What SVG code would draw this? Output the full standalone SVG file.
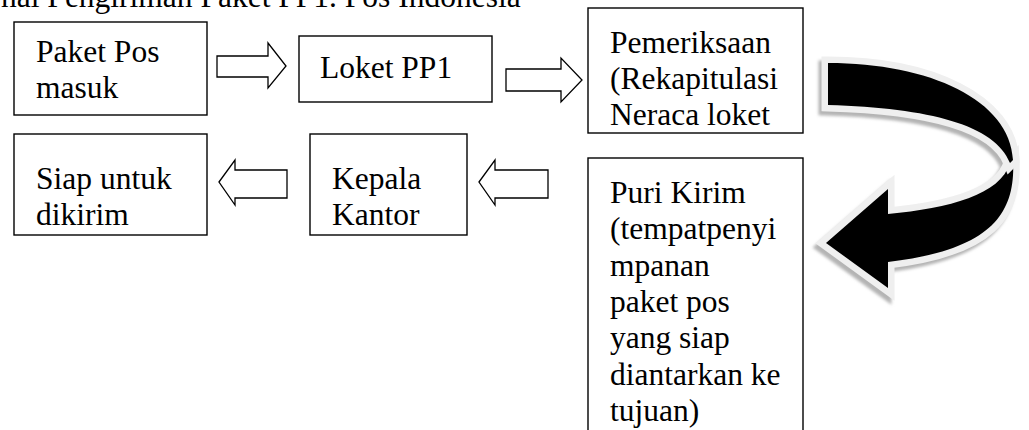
<svg xmlns="http://www.w3.org/2000/svg" width="1029" height="430" viewBox="0 0 1029 430">
  <style>
    .box { fill: #ffffff; stroke: #000000; stroke-width: 1.4; }
    .blk { fill: #ffffff; stroke: #000000; stroke-width: 1.3; stroke-linejoin: miter; }
    text { font-family: "Liberation Serif", "Times New Roman", serif; font-size: 31.5px; fill: #000000; }
    .rim { fill: #efefef; stroke: #efefef; stroke-width: 13; stroke-linejoin: miter; stroke-miterlimit: 4; }
    .shade { fill: #b4b4b4; stroke: #b4b4b4; stroke-width: 13; stroke-linejoin: miter; stroke-miterlimit: 4; }
    .ink { fill: #000000; }
  </style>
  <defs>
    <filter id="soft" x="-10%" y="-10%" width="120%" height="120%">
      <feGaussianBlur stdDeviation="1.6"/>
    </filter>
    <path id="bandTop" d="M828,63 C930,63 1010,100 1013,160 L1010,163 C995,125 930,108 828,105 Z"/>
    <path id="bandLow" d="M1013,160 C1016,215 990,250 888,262 L888,288 L826,243 L888,189 L888,214 C950,208 1000,195 1010,163 Z"/>
  </defs>

  <rect width="1029" height="430" fill="#ffffff"/>

  <!-- heading line, clipped by the top of the page -->
  <text x="1" y="7">nal Pengiriman Paket PP1. Pos Indonesia</text>

  <g id="paket-pos-masuk">
    <rect class="box" x="14" y="22" width="193" height="93"/>
    <text x="36" y="62">Paket Pos</text>
    <text x="36" y="98">masuk</text>
  </g>

  <g id="loket-pp1">
    <rect class="box" x="299" y="36" width="193" height="66"/>
    <text x="320" y="78">Loket PP1</text>
  </g>

  <g id="pemeriksaan">
    <rect class="box" x="588" y="8" width="215" height="125"/>
    <text x="610" y="53">Pemeriksaan</text>
    <text x="610" y="89">(Rekapitulasi</text>
    <text x="610" y="125">Neraca loket</text>
  </g>

  <g id="puri-kirim">
    <rect class="box" x="588" y="158" width="215" height="290"/>
    <text x="610" y="203">Puri Kirim</text>
    <text x="610" y="239">(tempatpenyi</text>
    <text x="610" y="276">mpanan</text>
    <text x="610" y="312">paket pos</text>
    <text x="610" y="348">yang siap</text>
    <text x="610" y="385">diantarkan ke</text>
    <text x="610" y="421">tujuan)</text>
  </g>

  <g id="kepala-kantor">
    <rect class="box" x="310" y="134" width="157" height="101"/>
    <text x="332" y="189">Kepala</text>
    <text x="332" y="225">Kantor</text>
  </g>

  <g id="siap-untuk-dikirim">
    <rect class="box" x="14" y="134" width="193" height="101"/>
    <text x="36" y="189">Siap untuk</text>
    <text x="36" y="225">dikirim</text>
  </g>

  <g id="connectors">
    <!-- block arrows along the top row -->
    <polygon class="blk" points="217,56 268,56 268,43 286,66 268,88 268,77 217,77"/>
    <polygon class="blk" points="506,69 561,69 561,58 582,80 561,102 561,91 506,91"/>
    <!-- block arrows along the lower row, pointing left -->
    <polygon class="blk" points="219,182 235,160 235,170 287,170 287,198 235,198 235,205"/>
    <polygon class="blk" points="479,182 495,160 495,170 548,170 548,198 495,198 495,205"/>

    <!-- curved turn arrow with light rim and soft shadow -->
    <g id="turn-arrow">
      <g transform="translate(-3,4)" filter="url(#soft)">
        <use href="#bandLow" class="shade"/>
        <use href="#bandTop" class="shade"/>
      </g>
      <use href="#bandLow" class="rim"/>
      <use href="#bandLow" class="ink"/>
      <use href="#bandTop" class="rim"/>
      <use href="#bandTop" class="ink"/>
    </g>
  </g>
</svg>
